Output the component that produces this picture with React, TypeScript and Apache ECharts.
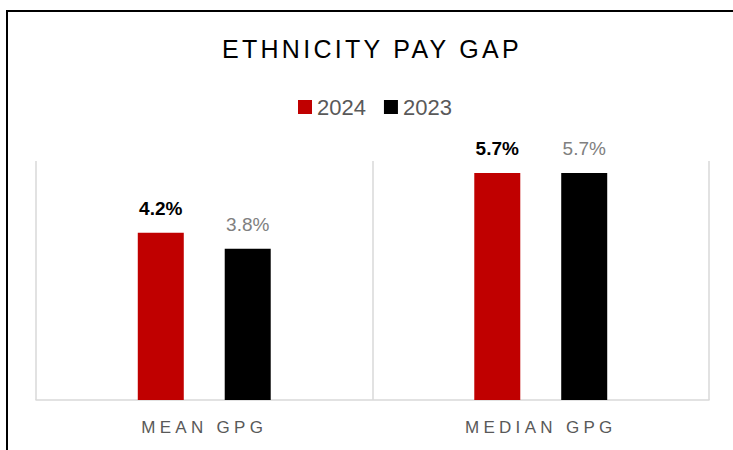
import React, { useEffect, useRef } from "react";
import * as echarts from "echarts";

const titleText = "ETHNICITY PAY GAP";
const categories = ["MEAN GPG", "MEDIAN GPG"];
const seriesNames = ["2024", "2023"];
const values2024 = [4.2, 5.7];
const values2023 = [3.8, 5.7];
const yMin = 0;
const yMax = 6;

const FONT = "'Liberation Sans', Arial, sans-serif";

export default function App() {
  const ref = useRef<HTMLDivElement>(null);

  useEffect(() => {
    if (!ref.current) return;
    const chart = echarts.init(ref.current, undefined, { renderer: "svg" });
    chart.setOption({
      animation: false,
      backgroundColor: "#ffffff",
      textStyle: { fontFamily: FONT },
      title: {
        text: titleText,
        left: 367,
        top: 31,
        textAlign: "center",
        textStyle: { fontSize: 25, fontWeight: "normal", color: "#000000", fontFamily: FONT },
      },
      legend: {
        data: seriesNames,
        left: 293,
        top: 91,
        itemWidth: 14,
        itemHeight: 14,
        itemGap: 18,
        icon: "rect",
        textStyle: { fontSize: 22, color: "#595959", fontFamily: FONT },
      },
      grid: { left: 36, right: 24, top: 161, bottom: 50, containLabel: false },
      xAxis: {
        type: "category",
        data: categories,
        boundaryGap: true,
        axisLine: { show: true, lineStyle: { color: "#d9d9d9", width: 1.5 } },
        axisTick: { show: false },
        axisLabel: { fontSize: 17, color: "#595959", margin: 19, fontFamily: FONT },
        splitLine: { show: true, lineStyle: { color: "#d9d9d9", width: 1.5 } },
      },
      yAxis: {
        type: "value",
        min: yMin,
        max: yMax,
        show: false,
        splitLine: { show: false },
      },
      series: [
        {
          name: seriesNames[0],
          type: "bar",
          data: values2024,
          barWidth: 46,
          barGap: "89%",
          itemStyle: { color: "#C00000" },
          label: {
            show: true,
            position: "top",
            distance: 15,
            formatter: "{c}%",
            fontSize: 19,
            fontWeight: "bold",
            color: "#000000",
            fontFamily: FONT,
          },
        },
        {
          name: seriesNames[1],
          type: "bar",
          data: values2023,
          barWidth: 46,
          barGap: "89%",
          itemStyle: { color: "#000000" },
          label: {
            show: true,
            position: "top",
            distance: 15,
            formatter: "{c}%",
            fontSize: 19,
            color: "#808080",
            fontFamily: FONT,
          },
        },
      ],
      graphic: [
        {
          type: "rect",
          silent: true,
          shape: { x: 7, y: 11, width: 800, height: 500 },
          style: { fill: "none", stroke: "#000000", lineWidth: 2 },
        },
      ],
    });
    return () => chart.dispose();
  }, []);

  return (
    <>
      <style>{`
        #chart text[style*="25px"] { letter-spacing: 3.3px; }
        #chart text[style*="17px"] { letter-spacing: 4.3px; }
      `}</style>
      <div
        id="chart"
        ref={ref}
        style={{ position: "fixed", left: 0, top: 0, width: 733, height: 450, background: "#fff" }}
      />
    </>
  );
}
